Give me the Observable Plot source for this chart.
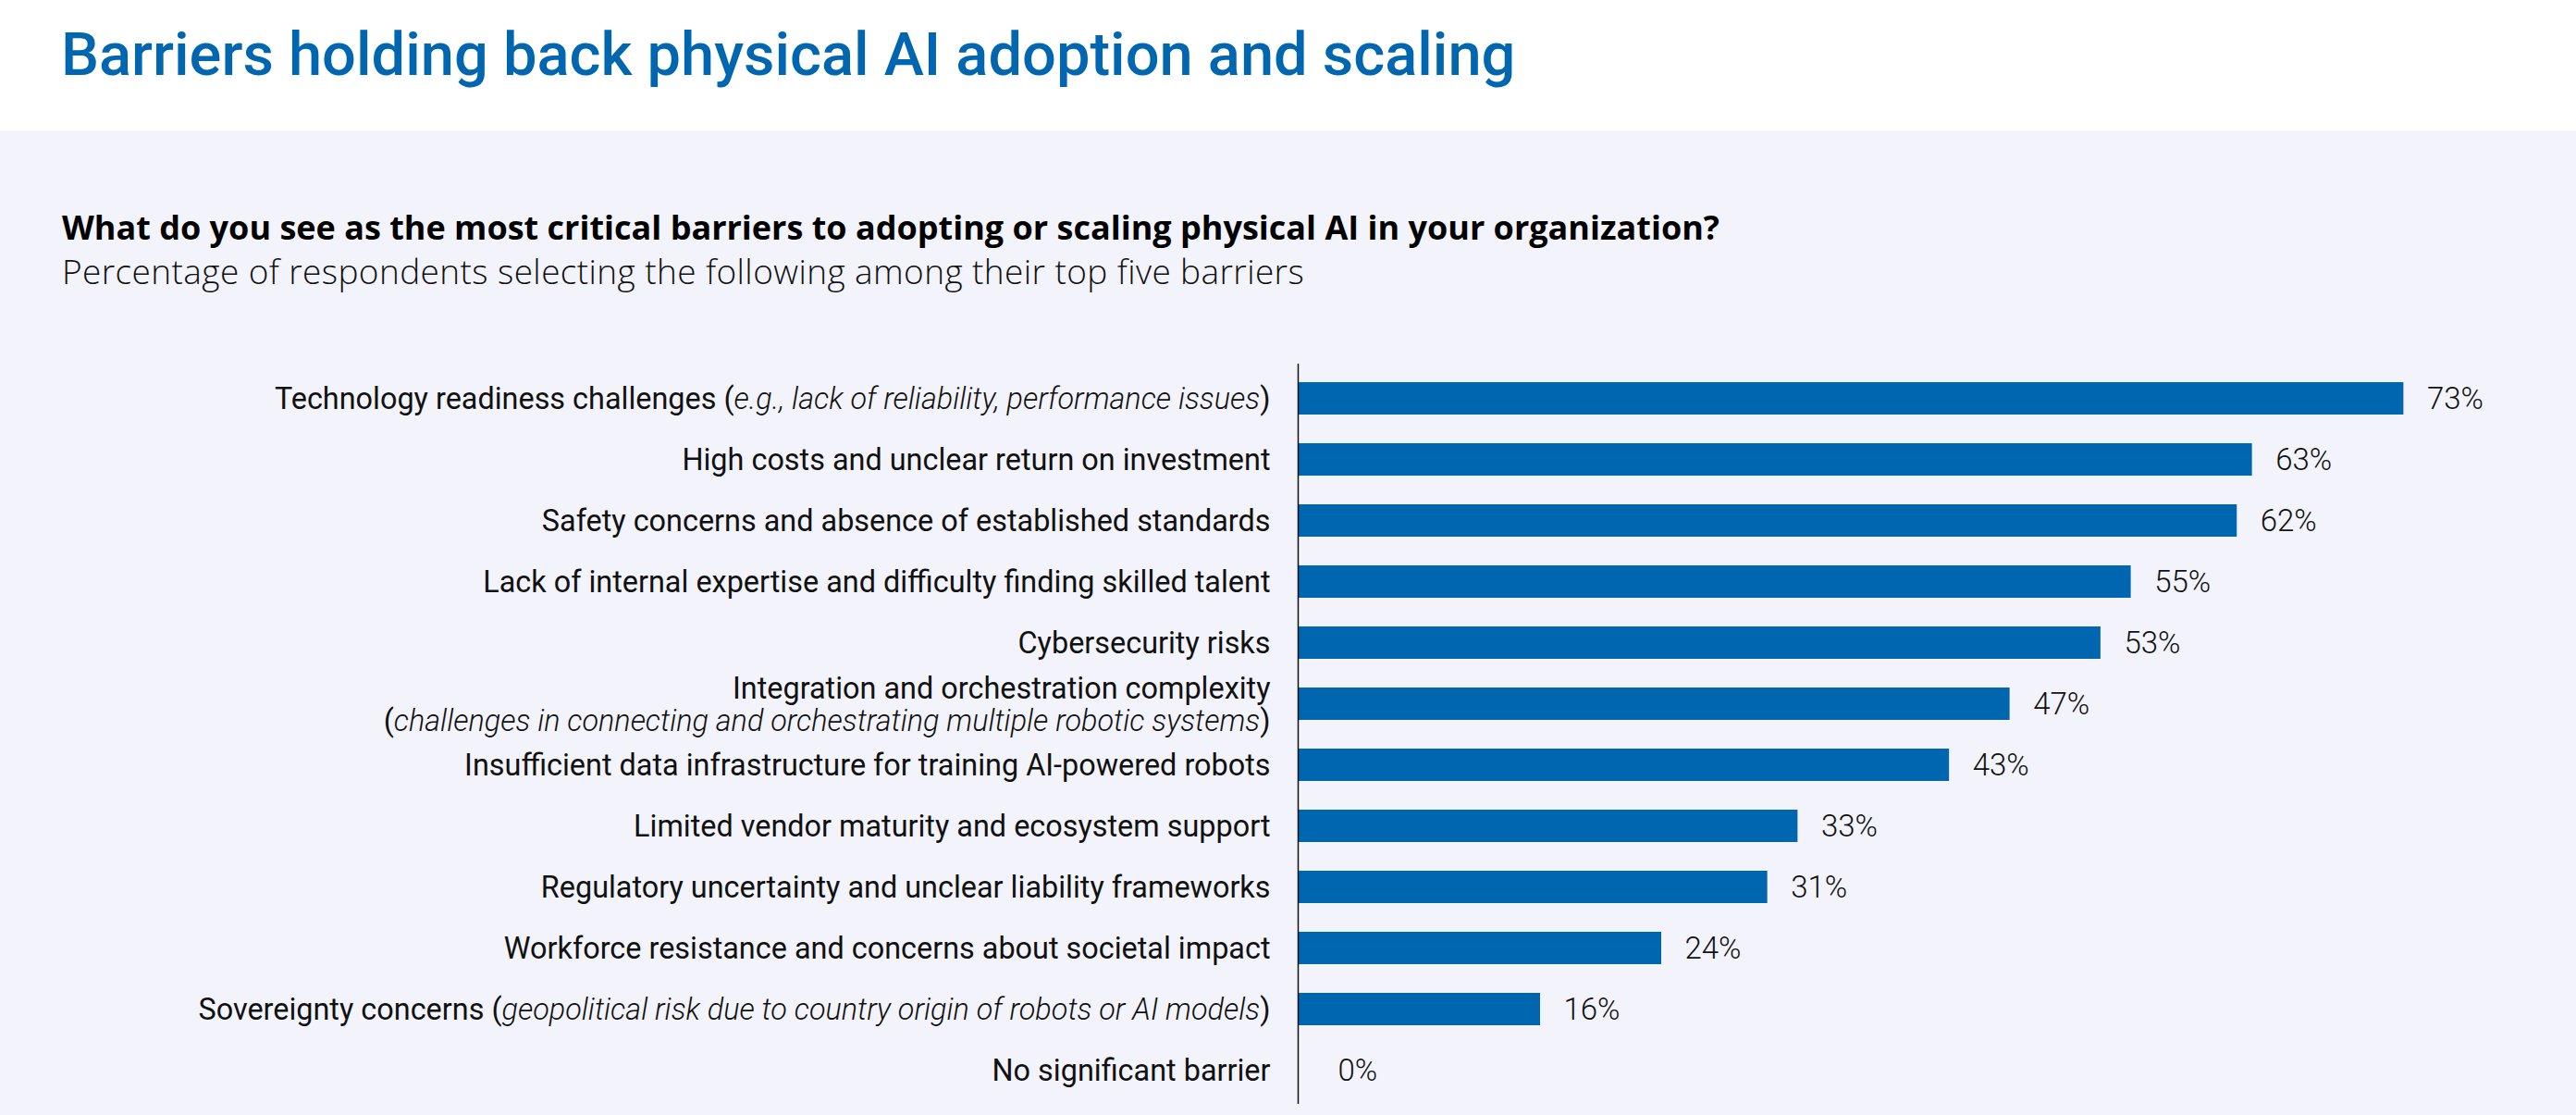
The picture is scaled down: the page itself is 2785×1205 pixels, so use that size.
<!DOCTYPE html>
<html>
<head>
<meta charset="utf-8">
<script src="https://cdn.jsdelivr.net/npm/d3@7"></script>
<script src="https://cdn.jsdelivr.net/npm/@observablehq/plot@0.6"></script>
<style>
  html, body { margin: 0; padding: 0; }
  body { width: 2785px; height: 1205px; position: relative; background: #F2F3FB; overflow: hidden; }
  #top { position: absolute; left: 0; top: 0; width: 2785px; height: 141px; background: #ffffff; }
  #title { position: absolute; left: 66px; top: 27px; margin: 0; font-family: Roboto, "Noto Sans", sans-serif; font-weight: 500; font-size: 65px; line-height: 1; color: #0066B0; white-space: nowrap; }
  #question { position: absolute; left: 67px; top: 228px; margin: 0; font-family: "Open Sans", "Noto Sans", sans-serif; font-weight: 700; font-size: 36px; line-height: 1; color: #000; white-space: nowrap; }
  #subtitle { position: absolute; left: 67px; top: 274px; margin: 0; font-family: "Open Sans", "Noto Sans", sans-serif; font-weight: 300; font-size: 37px; letter-spacing: 0.4px; line-height: 1; color: #111; white-space: nowrap; }
  #chart { position: absolute; left: 0; top: 330px; }
</style>
</head>
<body>
<div id="top"></div>
<h1 id="title"></h1>
<div id="question"></div>
<div id="subtitle"></div>
<div id="chart"></div>
<script>
const titleText = "Barriers holding back physical AI adoption and scaling";
const questionText = "What do you see as the most critical barriers to adopting or scaling physical AI in your organization?";
const subtitleText = "Percentage of respondents selecting the following among their top five barriers";

const categories = [
  "Technology readiness challenges (e.g., lack of reliability, performance issues)",
  "High costs and unclear return on investment",
  "Safety concerns and absence of established standards",
  "Lack of internal expertise and difficulty finding skilled talent",
  "Cybersecurity risks",
  "Integration and orchestration complexity\n(challenges in connecting and orchestrating multiple robotic systems)",
  "Insufficient data infrastructure for training AI-powered robots",
  "Limited vendor maturity and ecosystem support",
  "Regulatory uncertainty and unclear liability frameworks",
  "Workforce resistance and concerns about societal impact",
  "Sovereignty concerns (geopolitical risk due to country origin of robots or AI models)",
  "No significant barrier"
];
const values = [73, 63, 62, 55, 53, 47, 43, 33, 31, 24, 16, 0];
const italicParts = [
  "e.g., lack of reliability, performance issues",
  "challenges in connecting and orchestrating multiple robotic systems",
  "geopolitical risk due to country origin of robots or AI models"
];

document.getElementById("title").textContent = titleText;
document.getElementById("question").textContent = questionText;
document.getElementById("subtitle").textContent = subtitleText;

const data = categories.map((c, i) => ({category: c, value: values[i]}));
const labelFont = 'Roboto, "Noto Sans", sans-serif';

const chart = Plot.plot({
  width: 2785,
  height: 875,
  marginLeft: 1403,
  marginRight: 72,
  marginTop: 63,
  marginBottom: 12,
  style: {background: "transparent", fontFamily: labelFont, color: "#111"},
  x: {domain: [0, 80], axis: null},
  y: {domain: categories, paddingInner: 0.47, paddingOuter: 0.282, axis: null},
  marks: [
    Plot.barX(data, {x: "value", y: "category", fill: "#0066B0"}),
    Plot.ruleX([0], {stroke: "#111", strokeWidth: 1.5}),
    Plot.axisY({tickSize: 0, tickPadding: 30, fontSize: 32.4, lineHeight: 1.08, label: null, fill: "#111"}),
    Plot.text(data.filter(d => d.value > 0), {x: "value", y: "category", text: d => d.value + "%", dx: 25, textAnchor: "start", fontSize: 33, fontWeight: 300, fill: "#111"}),
    Plot.text(data.filter(d => d.value === 0), {x: "value", y: "category", text: d => d.value + "%", dx: 43, textAnchor: "start", fontSize: 33, fontWeight: 300, fill: "#111"})
  ]
});
document.getElementById("chart").appendChild(chart);

// italicize the parenthetical parts of the y-axis tick labels
const svgNS = "http://www.w3.org/2000/svg";
chart.querySelectorAll('g[aria-label="y-axis tick label"] text').forEach(t => {
  const spans = t.querySelectorAll("tspan");
  const lines = spans.length ? Array.from(spans) : [t];
  lines.forEach(node => {
    const s = node.textContent;
    const p = italicParts.find(q => s.includes(q));
    if (!p) return;
    const k = s.indexOf(p);
    node.textContent = "";
    node.appendChild(document.createTextNode(s.slice(0, k)));
    const it = document.createElementNS(svgNS, "tspan");
    it.setAttribute("font-style", "italic");
    it.setAttribute("font-weight", "300");
    it.textContent = p;
    node.appendChild(it);
    node.appendChild(document.createTextNode(s.slice(k + p.length)));
  });
});
</script>
</body>
</html>
